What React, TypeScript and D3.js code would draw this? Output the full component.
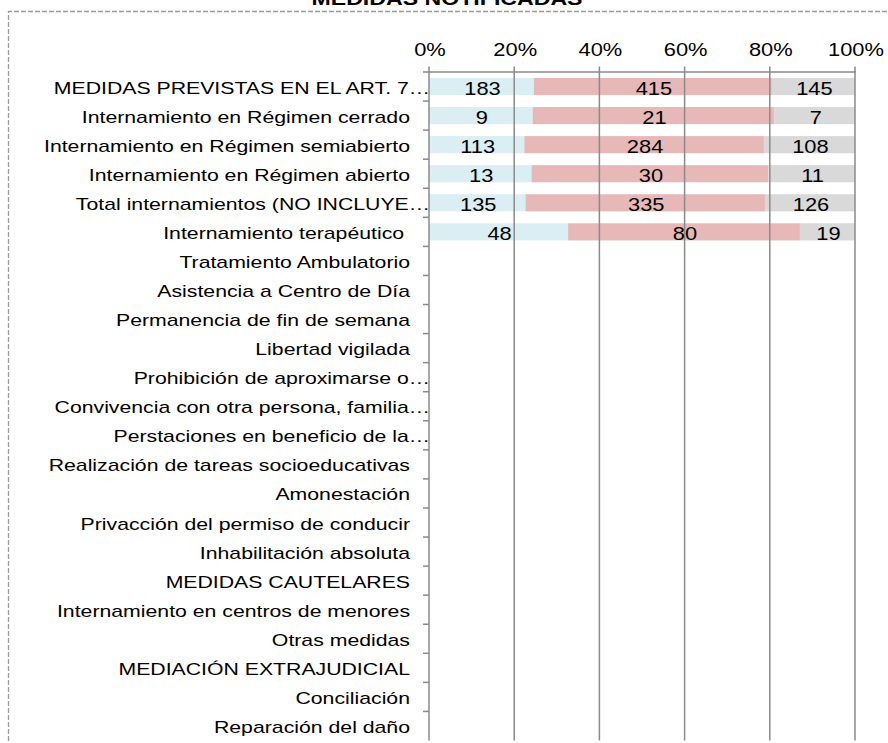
import React from "react";
import * as d3 from "d3";

const categories = [
  "MEDIDAS PREVISTAS EN EL ART. 7…",
  "Internamiento en Régimen cerrado",
  "Internamiento en Régimen semiabierto",
  "Internamiento en Régimen abierto",
  "Total internamientos (NO INCLUYE…",
  "Internamiento terapéutico ",
  "Tratamiento Ambulatorio",
  "Asistencia a Centro de Día",
  "Permanencia de fin de semana",
  "Libertad vigilada",
  "Prohibición de aproximarse o…",
  "Convivencia con otra persona, familia…",
  "Perstaciones en beneficio de la…",
  "Realización de tareas socioeducativas",
  "Amonestación",
  "Privacción del permiso de conducir",
  "Inhabilitación absoluta",
  "MEDIDAS CAUTELARES",
  "Internamiento en centros de menores",
  "Otras medidas",
  "MEDIACIÓN EXTRAJUDICIAL",
  "Conciliación",
  "Reparación del daño",
];

const serie1: (number | null)[] = [183, 9, 113, 13, 135, 48, null, null, null, null, null, null, null, null, null, null, null, null, null, null, null, null, null];
const serie2: (number | null)[] = [415, 21, 284, 30, 335, 80, null, null, null, null, null, null, null, null, null, null, null, null, null, null, null, null, null];
const serie3: (number | null)[] = [145, 7, 108, 11, 126, 19, null, null, null, null, null, null, null, null, null, null, null, null, null, null, null, null, null];

const seriesKeys = ["s1", "s2", "s3"];
const seriesColors = ["#DAEEF3", "#E6B9B8", "#D9D9D9"];
const tickValues = [0, 0.2, 0.4, 0.6, 0.8, 1];
const title = "MEDIDAS NOTIFICADAS";

const W = 888;
const H = 743;
const plot = { left: 429, right: 855, top: 72, bottom: 740.5 };
const FONT = "'Liberation Sans', Arial, sans-serif";
const SX = 1.25;

function T({ x, y, anchor, size, weight, children }: any) {
  return (
    <text
      transform={`translate(${x},${y}) scale(${SX},1)`}
      textAnchor={anchor}
      fontSize={size}
      fontWeight={weight}
      style={{ whiteSpace: "pre" }}
    >
      {children}
    </text>
  );
}

export default function App() {
  const rows = categories.map((c, i) => {
    const a = serie1[i] ?? 0;
    const b = serie2[i] ?? 0;
    const d = serie3[i] ?? 0;
    const t = a + b + d;
    return { cat: c, s1: t ? a / t : 0, s2: t ? b / t : 0, s3: t ? d / t : 0, raw: [serie1[i], serie2[i], serie3[i]] };
  });

  const x = d3.scaleLinear().domain([0, 1]).range([plot.left, plot.right]);
  const y = d3
    .scaleBand<string>()
    .domain(categories)
    .range([plot.top, plot.bottom])
    .paddingInner(0.41)
    .paddingOuter(0.205);
  const yb = d3.scaleBand<string>().domain(categories).range([plot.top, plot.bottom]);

  const stacked = d3.stack<any>().keys(seriesKeys)(rows);
  const gridColor = "#8a8a8a";

  return (
    <svg
      width={W}
      height={H}
      style={{ position: "absolute", left: 0, top: 0, overflow: "visible" }}
      fontFamily={FONT}
    >
      <rect width={W} height={H} fill="#fff" />
      {/* dashed border */}
      <path
        d={`M8.5,${H + 5} L8.5,11.5 L${W + 5},11.5`}
        fill="none"
        stroke="#9a9a9a"
        strokeWidth={1.3}
        strokeDasharray="5,2"
      />
      {/* title */}
      <T x={447} y={5} anchor="middle" size={18.5} weight="bold">
        {title}
      </T>

      {/* bars */}
      {stacked.map((layer, si) => (
        <g key={si}>
          {layer.map((seg, i) => {
            const w = x(seg[1]) - x(seg[0]);
            if (w <= 0) return null;
            return (
              <rect
                key={i}
                x={x(seg[0])}
                y={y(categories[i])}
                width={w}
                height={y.bandwidth()}
                fill={seriesColors[si]}
              />
            );
          })}
        </g>
      ))}

      {/* gridlines */}
      {tickValues.map((t) => (
        <line
          key={t}
          x1={x(t)}
          x2={x(t)}
          y1={plot.top - 5.5}
          y2={plot.bottom}
          stroke={gridColor}
          strokeWidth={1.5}
        />
      ))}
      {/* top axis line */}
      <line x1={plot.left - 6} x2={plot.right + 0.7} y1={plot.top} y2={plot.top} stroke={gridColor} strokeWidth={1.5} />
      {/* left ticks */}
      {categories.map((c, i) =>
        i === 0 ? null : (
          <line
            key={c}
            x1={plot.left - 6}
            x2={plot.left}
            y1={yb(c)}
            y2={yb(c)}
            stroke={gridColor}
            strokeWidth={1.5}
          />
        )
      )}

      {/* top tick labels */}
      {tickValues.map((t) => (
        <T key={t} x={x(t) + 1} y={56} anchor="middle" size={17.5}>
          {`${Math.round(t * 100)}%`}
        </T>
      ))}

      {/* category labels */}
      {categories.map((c) => {
        const trunc = c.endsWith("…");
        return (
          <T
            key={c}
            x={trunc ? plot.left + 1 : 410}
            y={(yb(c) ?? 0) + yb.bandwidth() / 2 + 7}
            anchor="end"
            size={17}
          >
            {c}
          </T>
        );
      })}

      {/* value labels */}
      {stacked.map((layer, si) =>
        layer.map((seg, i) => {
          const v = rows[i].raw[si];
          if (v == null) return null;
          const cx = (x(seg[0]) + x(seg[1])) / 2;
          return (
            <T
              key={`${si}-${i}`}
              x={cx + 1}
              y={(y(categories[i]) ?? 0) + y.bandwidth() / 2 + 8.5}
              anchor="middle"
              size={17.5}
            >
              {v}
            </T>
          );
        })
      )}
    </svg>
  );
}
